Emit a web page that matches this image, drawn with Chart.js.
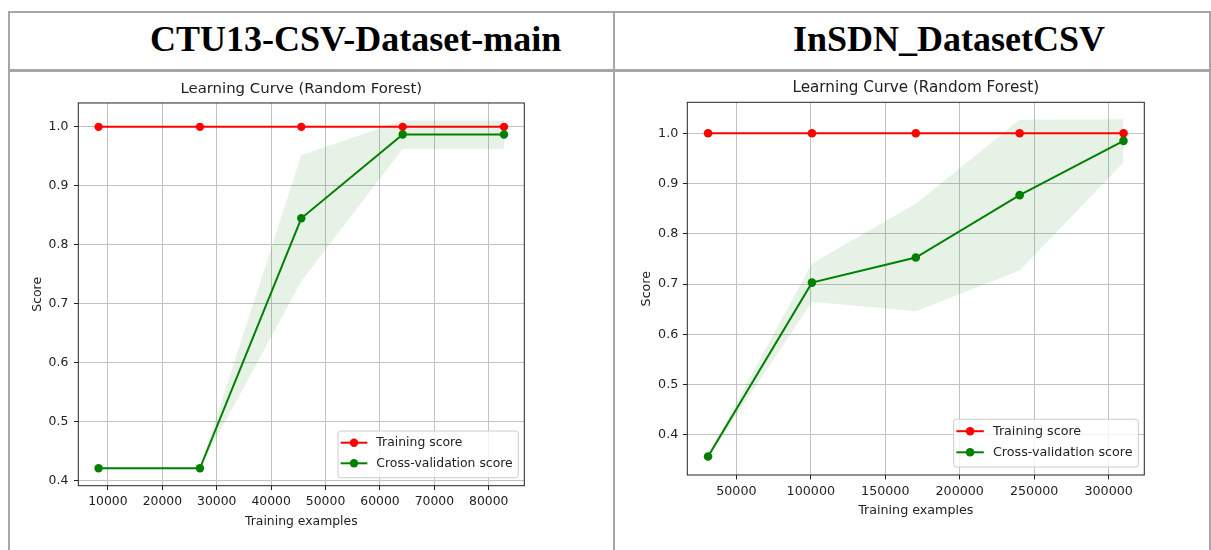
<!DOCTYPE html>
<html>
<head>
<meta charset="utf-8">
<title>Learning Curves – Random Forest</title>
<script src="https://cdn.jsdelivr.net/npm/chart.js@4.4.1/dist/chart.umd.min.js"></script>
<style>
  html, body { margin: 0; padding: 0; background: #fff; width: 1211px; height: 550px; overflow: hidden; }
  .rule { position: absolute; background: #a6a6a6; }
  .head { position: absolute; font-family: "Liberation Serif", "Times New Roman", serif; font-weight: bold;
          font-size: 36px; line-height: 36px; color: #000; white-space: nowrap; }
  canvas { position: absolute; filter: blur(0.45px); }
</style>
</head>
<body>
<!-- table frame -->
<div class="rule" style="left:7.5px;top:10.5px;width:1203.5px;height:2.6px"></div>
<div class="rule" style="left:7.5px;top:69.2px;width:1203.5px;height:2.6px"></div>
<div class="rule" style="left:7.5px;top:10.5px;width:2.6px;height:540px"></div>
<div class="rule" style="left:612.7px;top:10.5px;width:2.6px;height:540px"></div>
<div class="rule" style="left:1208.7px;top:10.5px;width:2.6px;height:540px"></div>

<div class="head" style="left:150px;top:21px">CTU13-CSV-Dataset-main</div>
<div class="head" style="left:793px;top:21px">InSDN_DatasetCSV</div>

<canvas id="ctu" width="602" height="478" style="left:10px;top:72px;width:602px;height:478px"></canvas>
<canvas id="insdn" width="592" height="478" style="left:616px;top:72px;width:592px;height:478px"></canvas>

<script>
// ---- CTU13 learning curve ----
const ctuSizes      = [8280, 26910, 45540, 64170, 82800];
const ctuTrain      = [1.0, 1.0, 1.0, 1.0, 1.0];
const ctuTrainStd   = [0, 0, 0, 0, 0];
const ctuCv         = [0.421, 0.421, 0.845, 0.987, 0.987];
const ctuCvStd      = [0.0, 0.0, 0.107, 0.024, 0.024];
const ctuXTicks     = [10000, 20000, 30000, 40000, 50000, 60000, 70000, 80000];

// ---- InSDN learning curve ----
const insdnSizes    = [31000, 100750, 170500, 240250, 310000];
const insdnTrain    = [1.0, 1.0, 1.0, 1.0, 1.0];
const insdnTrainStd = [0, 0, 0, 0, 0];
const insdnCv       = [0.357, 0.703, 0.753, 0.877, 0.985];
const insdnCvStd    = [0.003, 0.038, 0.107, 0.150, 0.043];
const insdnXTicks   = [50000, 100000, 150000, 200000, 250000, 300000];

const scoreTicks    = [0.4, 0.5, 0.6, 0.7, 0.8, 0.9, 1.0];
const seriesNames   = ['Training score', 'Cross-validation score'];
const chartTitle    = 'Learning Curve (Random Forest)';
const xAxisTitle    = 'Training examples';
const yAxisTitle    = 'Score';

const TEXT = '#222';
const RED = '#ff0000';
const GREEN = '#008000';

const pts = (xs, ys) => xs.map((x, i) => ({ x, y: ys[i] }));

// Limits padded by 5% of the data span on each side
function padded(lo, hi) {
  const m = (hi - lo) * 0.05;
  return [lo - m, hi + m];
}

// Frame around the plotting area
const frame = {
  id: 'frame',
  afterDatasetsDraw(chart) {
    const { ctx, chartArea: a } = chart;
    ctx.save();
    ctx.strokeStyle = TEXT;
    ctx.lineWidth = 1;
    ctx.strokeRect(a.left, a.top, a.right - a.left, a.bottom - a.top);
    ctx.restore();
  }
};

// Legend box drawn inside the plot, lower right
const insetLegend = {
  id: 'insetLegend',
  afterDraw(chart, args, o) {
    const { ctx, chartArea: a } = chart;
    const items = chart.data.datasets
      .filter(d => !d.label.startsWith('_'))
      .map(d => ({ text: d.label, color: d.borderColor }));
    ctx.save();
    ctx.font = o.size + 'px "DejaVu Sans"';
    const tw = Math.max(...items.map(it => ctx.measureText(it.text).width));
    const w = o.padL + o.handle + o.gap + tw + o.padR;
    const h = o.height;
    const x = a.right - o.right - w;
    const y = a.bottom - o.bottom - h;
    ctx.beginPath();
    ctx.roundRect(x, y, w, h, 2.5);
    ctx.fillStyle = 'rgba(255,255,255,0.8)';
    ctx.fill();
    ctx.strokeStyle = '#cccccc';
    ctx.lineWidth = 1;
    ctx.stroke();
    items.forEach((it, i) => {
      const cy = y + o.first + i * o.step;
      const hx = x + o.padL;
      ctx.strokeStyle = it.color;
      ctx.lineWidth = o.lw;
      ctx.beginPath();
      ctx.moveTo(hx, cy);
      ctx.lineTo(hx + o.handle, cy);
      ctx.stroke();
      ctx.fillStyle = it.color;
      ctx.beginPath();
      ctx.arc(hx + o.handle / 2, cy, o.r, 0, Math.PI * 2);
      ctx.fill();
      ctx.fillStyle = TEXT;
      ctx.textBaseline = 'middle';
      ctx.textAlign = 'left';
      ctx.fillText(it.text, hx + o.handle + o.gap, cy);
    });
    ctx.restore();
  }
};

function learningCurve(canvasId, d, L) {
  const cvUp = d.cv.map((v, i) => v + d.cvStd[i]);
  const cvLo = d.cv.map((v, i) => v - d.cvStd[i]);
  const trUp = d.train.map((v, i) => v + d.trainStd[i]);
  const trLo = d.train.map((v, i) => v - d.trainStd[i]);
  const [xMin, xMax] = padded(Math.min(...d.sizes), Math.max(...d.sizes));
  const [yMin, yMax] = padded(Math.min(...cvLo, ...trLo), Math.max(...cvUp, ...trUp));

  const line = (label, ys, color, order) => ({
    label, data: pts(d.sizes, ys), borderColor: color, backgroundColor: color,
    borderWidth: L.lw, pointRadius: L.r, pointHoverRadius: L.r, pointBorderWidth: 0,
    pointBackgroundColor: color, fill: false, tension: 0, order
  });
  const band = (label, ys, fill, color) => ({
    label, data: pts(d.sizes, ys), borderWidth: 0, pointRadius: 0, pointHoverRadius: 0,
    borderColor: 'rgba(0,0,0,0)', backgroundColor: color, fill, tension: 0, order: 2
  });

  const tickFont = { family: 'DejaVu Sans', size: L.font };

  return new Chart(document.getElementById(canvasId), {
    type: 'line',
    data: {
      datasets: [
        line(seriesNames[0], d.train, RED, 1),
        line(seriesNames[1], d.cv, GREEN, 0),
        band('_trainUpper', trUp, '+1', 'rgba(255,0,0,0.1)'),
        band('_trainLower', trLo, false, 'rgba(255,0,0,0.1)'),
        band('_cvUpper', cvUp, '+1', 'rgba(0,128,0,0.1)'),
        band('_cvLower', cvLo, false, 'rgba(0,128,0,0.1)')
      ]
    },
    options: {
      responsive: false,
      animation: false,
      events: [],
      layout: { padding: { left: 0, top: 0, right: L.padRight, bottom: 0 } },
      plugins: {
        legend: { display: false },
        tooltip: { enabled: false },
        title: {
          display: true, text: chartTitle, fullSize: false, color: TEXT,
          font: { family: 'DejaVu Sans', size: L.titleFont, weight: 'normal' },
          padding: { top: L.titlePadTop, bottom: L.titlePadBottom }
        },
        insetLegend: L.legend
      },
      scales: {
        x: {
          type: 'linear', min: xMin, max: xMax,
          afterBuildTicks: s => { s.ticks = d.xTicks.map(v => ({ value: v })); },
          afterFit: s => { s.height = L.xH; },
          ticks: { color: TEXT, font: tickFont, padding: L.xTickPad, autoSkip: false, maxRotation: 0,
                   callback: v => String(v) },
          grid: { color: '#c2c2c2', lineWidth: 1, tickLength: L.tick, tickColor: TEXT, tickWidth: 1 },
          border: { display: false },
          title: { display: true, text: xAxisTitle, color: TEXT, font: tickFont,
                   padding: { top: 0, bottom: L.xTitlePad } }
        },
        y: {
          type: 'linear', min: yMin, max: yMax,
          afterBuildTicks: s => { s.ticks = scoreTicks.map(v => ({ value: v })); },
          afterFit: s => { s.width = L.yW; },
          ticks: { color: TEXT, font: tickFont, padding: L.yTickPad, callback: v => v.toFixed(1) },
          grid: { color: '#c2c2c2', lineWidth: 1, tickLength: L.tick, tickColor: TEXT, tickWidth: 1 },
          border: { display: false },
          title: { display: true, text: yAxisTitle, color: TEXT, font: tickFont,
                   padding: { top: L.yTitlePad, bottom: 0 } }
        }
      }
    },
    plugins: [frame, insetLegend]
  });
}

learningCurve('ctu',
  { sizes: ctuSizes, train: ctuTrain, trainStd: ctuTrainStd, cv: ctuCv, cvStd: ctuCvStd, xTicks: ctuXTicks },
  { padRight: 87.7, xH: 64.3, yW: 68.3, titleFont: 14.9, titlePadTop: 8.06, titlePadBottom: 5.04,
    font: 12.4, yTitlePad: 20.06, xTitlePad: 20.9, yTickPad: 5.7, xTickPad: 4.6, tick: 4.3,
    lw: 2.0, r: 4.2,
    legend: { size: 12.4, right: 6, bottom: 8, height: 46.7, padL: 2.6, handle: 26.7, gap: 9, padR: 5.6,
              first: 11.7, step: 20.6, lw: 2.0, r: 4.2 } });

learningCurve('insdn',
  { sizes: insdnSizes, train: insdnTrain, trainStd: insdnTrainStd, cv: insdnCv, cvStd: insdnCvStd, xTicks: insdnXTicks },
  { padRight: 63.7, xH: 75, yW: 71.3, titleFont: 15.2, titlePadTop: 7.2, titlePadBottom: 4.86,
    font: 12.7, yTitlePad: 23.1, xTitlePad: 31.7, yTickPad: 4.6, xTickPad: 4.7, tick: 4.4,
    lw: 2.0, r: 4.3,
    legend: { size: 12.7, right: 6, bottom: 8, height: 47.8, padL: 2.7, handle: 27.4, gap: 9.2, padR: 5.7,
              first: 12, step: 21.1, lw: 2.0, r: 4.3 } });
</script>
</body>
</html>
